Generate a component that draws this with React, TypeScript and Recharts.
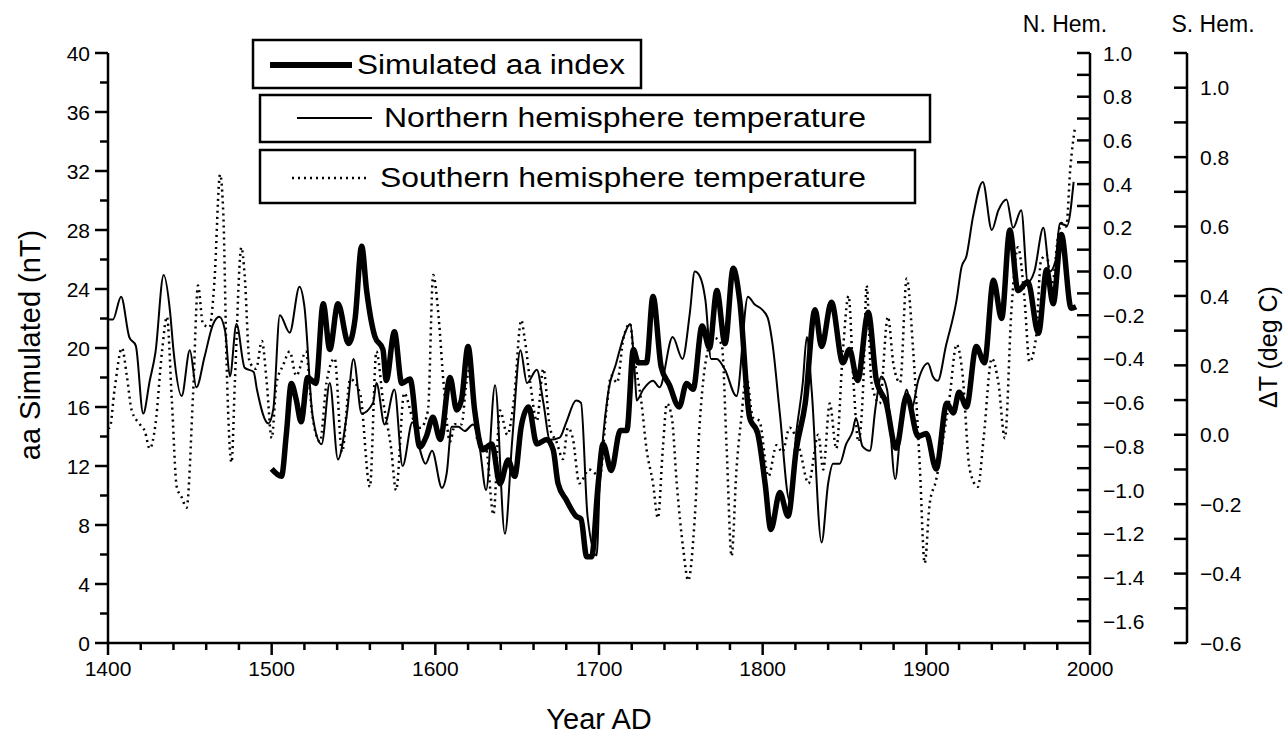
import React from 'react';
import { LineChart, Line, XAxis, YAxis } from 'recharts';

// Simulated aa index (nT), left axis
const AA_YEARS = [1500, 1506, 1509, 1512, 1515, 1518, 1522, 1527, 1531.5, 1535.5, 1540.5, 1547, 1551, 1555, 1558, 1563, 1568, 1570, 1575, 1579.5, 1584.5, 1590.5, 1594.5, 1598.5, 1603, 1609, 1613, 1616, 1620, 1624, 1629, 1634.5, 1639.5, 1644.5, 1648.5, 1652.5, 1657, 1662, 1668, 1672, 1675, 1680, 1686, 1689, 1692.5, 1695.5, 1699.5, 1702.5, 1707.5, 1713, 1717, 1721, 1724, 1729, 1733, 1738, 1743, 1749, 1753.5, 1757.5, 1763, 1767.5, 1772, 1777, 1782, 1786, 1792, 1797, 1801.5, 1805, 1810.5, 1815.5, 1820.5, 1826, 1832, 1836, 1842, 1849, 1853, 1858, 1864.5, 1869.5, 1875.5, 1881.5, 1888, 1895, 1900, 1906, 1912.5, 1916.5, 1920, 1924.5, 1930.5, 1935.5, 1941, 1946, 1951, 1956, 1962, 1968.5, 1973.5, 1977.5, 1982.5, 1988.5, 1991.5];
const AA_VALUES = [11.8, 11.3, 14.2, 17.6, 16.5, 15.0, 18.0, 17.6, 23.0, 19.9, 23.0, 20.3, 22.0, 26.9, 23.9, 20.8, 19.9, 17.8, 21.1, 17.6, 17.9, 13.3, 14.0, 15.3, 13.8, 18.0, 15.8, 16.5, 20.1, 15.8, 13.1, 13.5, 10.8, 12.4, 11.3, 14.7, 16.0, 13.5, 13.8, 13.1, 10.8, 9.7, 8.6, 8.4, 5.85, 5.85, 10.8, 13.5, 11.7, 14.4, 14.4, 19.9, 19.0, 19.0, 23.5, 18.7, 17.5, 16.0, 17.6, 17.2, 21.5, 20.0, 23.9, 20.3, 25.4, 23.2, 15.3, 14.2, 10.8, 7.7, 10.2, 8.6, 13.1, 16.25, 22.6, 20.1, 23.1, 19.0, 19.9, 17.8, 22.4, 17.8, 16.25, 13.2, 16.8, 14.0, 14.2, 11.8, 16.25, 15.6, 17.0, 16.0, 20.1, 19.0, 24.6, 22.0, 28.0, 23.9, 24.5, 21.0, 25.3, 23.0, 27.7, 22.7, 22.8];

// Northern hemisphere temperature (deg C), N. Hem. axis
const NH_YEARS = [1400, 1403, 1408, 1413, 1417, 1421.5, 1425.5, 1429, 1434, 1438, 1440, 1445, 1450, 1454, 1459, 1464, 1468, 1471.5, 1474.5, 1478.5, 1483.5, 1489, 1491, 1498, 1501, 1505, 1511, 1517, 1520, 1525, 1530.5, 1535.5, 1540.5, 1546, 1550, 1555, 1562, 1564, 1569, 1575, 1580, 1586, 1590, 1594, 1598, 1604, 1607, 1610, 1614, 1618, 1623, 1627, 1631, 1636.5, 1642.5, 1647, 1652, 1656, 1662, 1666, 1670, 1676, 1680, 1686, 1689, 1693, 1698.5, 1700.5, 1705.5, 1710.5, 1715, 1719, 1722, 1723, 1727, 1733, 1737, 1745, 1751, 1755.5, 1758.5, 1761.5, 1765, 1768.5, 1772, 1777, 1784, 1791, 1795, 1799, 1803, 1806, 1810.5, 1816.5, 1820.5, 1824.5, 1827, 1830, 1836, 1840, 1843, 1847, 1851, 1855, 1857, 1861, 1865.5, 1869, 1872.5, 1876, 1881, 1884, 1888, 1891, 1895, 1901, 1904, 1907, 1912, 1918.5, 1921.5, 1924.5, 1928.5, 1934.5, 1940, 1944, 1949, 1953, 1958, 1962, 1966, 1971.5, 1975.5, 1979, 1981.5, 1986, 1990];
const NH_VALUES = [-0.22, -0.22, -0.115, -0.30, -0.34, -0.65, -0.50, -0.37, -0.016, -0.19, -0.36, -0.57, -0.36, -0.53, -0.39, -0.245, -0.207, -0.27, -0.48, -0.24, -0.44, -0.46, -0.54, -0.695, -0.63, -0.20, -0.28, -0.07, -0.16, -0.66, -0.79, -0.51, -0.86, -0.65, -0.40, -0.65, -0.60, -0.51, -0.70, -0.54, -0.89, -0.69, -0.80, -0.88, -0.82, -0.99, -0.92, -0.71, -0.71, -0.73, -0.70, -0.80, -1.00, -0.52, -1.20, -0.77, -0.36, -0.51, -0.45, -0.60, -0.77, -0.76, -0.69, -0.59, -0.60, -1.12, -1.30, -0.97, -0.56, -0.42, -0.30, -0.24, -0.48, -0.59, -0.54, -0.50, -0.53, -0.30, -0.40, -0.19, 0.0, -0.02, -0.13, -0.40, -0.40, -0.45, -0.57, -0.115, -0.15, -0.17, -0.21, -0.33, -0.65, -1.05, -0.74, -0.51, -0.30, -0.55, -1.24, -0.97, -0.88, -0.88, -0.79, -0.73, -0.67, -0.80, -0.82, -0.62, -0.48, -0.54, -0.95, -0.75, -0.54, -0.63, -0.50, -0.42, -0.48, -0.50, -0.34, -0.13, 0.02, 0.07, 0.25, 0.41, 0.19, 0.28, 0.33, 0.20, 0.28, -0.05, 0.00, 0.20, 0.00, 0.05, 0.22, 0.21, 0.41];

// Southern hemisphere temperature (deg C), S. Hem. axis
const SH_YEARS = [1400, 1401, 1404, 1408.5, 1411.5, 1414.5, 1419.5, 1422.5, 1425.5, 1429, 1433, 1436, 1439, 1442, 1445, 1448, 1452, 1455, 1458, 1462, 1465, 1468.5, 1470.5, 1472.5, 1475.5, 1477.5, 1481.5, 1483.5, 1486.5, 1490.5, 1494, 1497, 1500, 1503, 1507, 1511, 1515, 1521, 1524.5, 1529.5, 1533.5, 1538.5, 1543, 1548, 1554, 1560, 1564, 1568, 1573, 1576, 1581, 1586, 1591, 1595.5, 1598.7, 1602, 1605, 1609, 1612, 1616, 1619, 1621, 1626, 1631, 1635.5, 1639.5, 1644, 1648, 1652.5, 1654.5, 1658, 1662, 1666, 1670, 1674, 1678, 1681, 1684, 1688, 1694, 1700.5, 1704.5, 1707.5, 1711, 1715, 1719, 1721, 1726, 1729, 1733, 1736, 1739, 1741.5, 1744.5, 1747.5, 1751.5, 1754.5, 1758.5, 1761.5, 1765.5, 1770, 1775, 1778, 1781, 1784, 1787, 1790, 1794, 1798, 1803.5, 1808.5, 1812, 1816.5, 1822.5, 1828, 1834, 1837, 1841, 1845, 1849, 1852.5, 1855.5, 1858.5, 1861.5, 1863.5, 1866.5, 1871.5, 1876.5, 1880, 1884, 1888, 1892, 1896, 1899, 1902, 1906, 1910, 1914, 1918.5, 1922, 1926.5, 1931.5, 1935, 1940, 1944, 1948, 1952, 1956, 1960, 1963, 1967, 1970, 1973.5, 1976.5, 1980.5, 1982.5, 1985.5, 1988, 1991];
const SH_VALUES = [0.02, 0.02, 0.13, 0.25, 0.17, 0.07, 0.03, 0.01, -0.04, 0.03, 0.24, 0.34, 0.10, -0.15, -0.18, -0.21, 0.12, 0.43, 0.32, 0.31, 0.44, 0.75, 0.63, 0.20, -0.08, 0.15, 0.54, 0.46, 0.21, 0.19, 0.27, 0.15, -0.01, 0.15, 0.20, 0.24, 0.17, 0.24, 0.07, -0.02, 0.15, 0.22, -0.05, 0.16, 0.12, -0.15, 0.24, 0.10, -0.04, -0.16, 0.12, 0.05, 0.02, 0.07, 0.46, 0.34, 0.15, -0.02, 0.03, 0.03, 0.15, 0.19, -0.02, -0.04, -0.23, 0.07, 0.00, 0.10, 0.33, 0.28, 0.15, 0.04, 0.19, 0.02, -0.02, -0.07, 0.02, -0.01, -0.14, -0.10, -0.12, 0.07, 0.17, 0.15, 0.28, 0.32, 0.24, 0.09, -0.04, -0.14, -0.24, -0.04, 0.09, 0.05, -0.14, -0.33, -0.42, -0.24, 0.03, 0.22, 0.28, 0.26, -0.04, -0.35, -0.10, 0.05, 0.17, 0.05, 0.04, -0.12, -0.03, -0.05, 0.02, -0.04, -0.14, 0.00, -0.10, 0.09, -0.04, 0.24, 0.40, 0.15, -0.02, 0.15, 0.43, 0.15, 0.09, 0.34, 0.20, 0.15, 0.45, 0.24, -0.09, -0.37, -0.20, -0.13, -0.02, 0.10, 0.26, 0.18, -0.10, -0.15, -0.01, 0.22, 0.15, -0.01, 0.36, 0.54, 0.39, 0.21, 0.28, 0.50, 0.52, 0.42, 0.57, 0.61, 0.60, 0.77, 0.89];

const X_TICKS = [1400, 1420, 1440, 1460, 1480, 1500, 1520, 1540, 1560, 1580, 1600, 1620, 1640, 1660, 1680, 1700, 1720, 1740, 1760, 1780, 1800, 1820, 1840, 1860, 1880, 1900, 1920, 1940, 1960, 1980, 2000];
const AA_TICKS = [0, 2, 4, 6, 8, 10, 12, 14, 16, 18, 20, 22, 24, 26, 28, 30, 32, 34, 36, 38, 40];
const NH_TICKS = [-1.6, -1.5, -1.4, -1.3, -1.2, -1.1, -1.0, -0.9, -0.8, -0.7, -0.6, -0.5, -0.4, -0.3, -0.2, -0.1, 0.0, 0.1, 0.2, 0.3, 0.4, 0.5, 0.6, 0.7, 0.8, 0.9, 1.0];
const SH_TICKS = [-0.6, -0.5, -0.4, -0.3, -0.2, -0.1, 0.0, 0.1, 0.2, 0.3, 0.4, 0.5, 0.6, 0.7, 0.8, 0.9, 1.0, 1.1];

const FONT = '"Liberation Sans", Arial, Helvetica, sans-serif';

const zip = (xs: number[], ys: number[]) => xs.map((year, i) => ({ year, value: ys[i] }));
const aaData = zip(AA_YEARS, AA_VALUES);
const nhData = zip(NH_YEARS, NH_VALUES);
const shData = zip(SH_YEARS, SH_VALUES);

const fmt = (v: number) => (v < 0 ? '\u2212' : '') + Math.abs(v).toFixed(1);

function BottomTick({ x, y, payload }: any) {
  const v = payload.value;
  const major = v % 100 === 0;
  return (
    <g>
      <line x1={x} x2={x} y1={y} y2={y + (major ? 12 : 7)} stroke="#000" strokeWidth={2.5} />
      {major && (
        <text x={x} y={y + 33} textAnchor="middle" fontSize={21} fontFamily={FONT} fill="#000">{v}</text>
      )}
    </g>
  );
}

function LeftTick({ x, y, payload }: any) {
  const v = payload.value;
  const major = v % 4 === 0;
  return (
    <g>
      <line x1={x} x2={x - (major ? 13 : 8)} y1={y} y2={y} stroke="#000" strokeWidth={2.5} />
      {major && (
        <text x={x - 18} y={y} dy="0.36em" textAnchor="end" fontSize={21} fontFamily={FONT} fill="#000">{v}</text>
      )}
    </g>
  );
}

function RightTick({ x, y, payload }: any) {
  const v = payload.value;
  const label = Math.round(v * 10) % 2 === 0;
  return (
    <g>
      <line x1={x} x2={x - 13} y1={y} y2={y} stroke="#000" strokeWidth={2.5} />
      {label && (
        <text x={x + 13} y={y} dy="0.36em" textAnchor="start" fontSize={21} fontFamily={FONT} fill="#000">{fmt(v)}</text>
      )}
    </g>
  );
}

export default function App() {
  return (
    <div style={{ position: 'absolute', left: 0, top: 0, width: 1287, height: 738, background: '#fff' }}>
      <LineChart width={1287} height={738} margin={{ top: 53, right: 0, bottom: 0, left: 0 }}>
        <XAxis
          dataKey="year" type="number" domain={[1400, 2000]} ticks={X_TICKS} interval={0}
          height={95} tickSize={0} tickMargin={0} tickLine={false}
          axisLine={{ stroke: '#000', strokeWidth: 2.5 }} tick={<BottomTick />} allowDuplicatedCategory={false}
        />
        <YAxis
          yAxisId="aa" orientation="left" type="number" domain={[0, 40]} ticks={AA_TICKS} interval={0}
          width={108} tickSize={0} tickMargin={0} tickLine={false}
          axisLine={{ stroke: '#000', strokeWidth: 2.5 }} tick={<LeftTick />}
        />
        <YAxis
          yAxisId="nh" orientation="right" type="number" domain={[-1.7, 1.0]} ticks={NH_TICKS} interval={0}
          width={97} tickSize={0} tickMargin={0} tickLine={false} allowDataOverflow
          axisLine={{ stroke: '#000', strokeWidth: 2.5 }} tick={<RightTick />}
        />
        <YAxis
          yAxisId="sh" orientation="right" type="number" domain={[-0.6, 1.1]} ticks={SH_TICKS} interval={0}
          width={100} tickSize={0} tickMargin={0} tickLine={false} allowDataOverflow
          axisLine={{ stroke: '#000', strokeWidth: 2.5 }} tick={<RightTick />}
        />
        <Line
          yAxisId="sh" data={shData} dataKey="value" type="monotone" stroke="#000" strokeWidth={2.5}
          strokeDasharray="2 4" dot={false} isAnimationActive={false}
        />
        <Line
          yAxisId="nh" data={nhData} dataKey="value" type="monotone" stroke="#000" strokeWidth={2}
          dot={false} isAnimationActive={false}
        />
        <Line
          yAxisId="aa" data={aaData} dataKey="value" type="monotone" stroke="#000" strokeWidth={5.5}
          dot={false} isAnimationActive={false}
        />
      </LineChart>
      <svg width={1287} height={738} style={{ position: 'absolute', left: 0, top: 0, pointerEvents: 'none' }}>
        <g fontFamily={FONT} fill="#000">
          <text x={30} y={345} transform="rotate(-90 30 345)" textAnchor="middle" dy="0.35em" fontSize={29}>aa Simulated (nT)</text>
          <text x={599} y={719} textAnchor="middle" dy="0.35em" fontSize={29}>Year AD</text>
          <text x={1268} y={347} transform="rotate(-90 1268 347)" textAnchor="middle" dy="0.35em" fontSize={25}>ΔT (deg C)</text>
          <text x={1065} y={24} textAnchor="middle" dy="0.35em" fontSize={23}>N. Hem.</text>
          <text x={1213} y={24} textAnchor="middle" dy="0.35em" fontSize={23}>S. Hem.</text>

          <rect x={253} y={40} width={388} height={48} fill="#fff" stroke="#000" strokeWidth={2.5} />
          <line x1={270} x2={352} y1={65} y2={65} stroke="#000" strokeWidth={6} />
          <text x={357} y={65} dy="0.35em" fontSize={27} textLength={268} lengthAdjust="spacingAndGlyphs">Simulated aa index</text>

          <rect x={260} y={95} width={670} height={47} fill="#fff" stroke="#000" strokeWidth={2.5} />
          <line x1={297} x2={372} y1={118} y2={118} stroke="#000" strokeWidth={2} />
          <text x={384} y={118} dy="0.35em" fontSize={27} textLength={482} lengthAdjust="spacingAndGlyphs">Northern hemisphere temperature</text>

          <rect x={260} y={150} width={655} height={53} fill="#fff" stroke="#000" strokeWidth={2.5} />
          <line x1={292} x2={368} y1={178} y2={178} stroke="#000" strokeWidth={2.5} strokeDasharray="2 4" />
          <text x={380} y={178} dy="0.35em" fontSize={27} textLength={486} lengthAdjust="spacingAndGlyphs">Southern hemisphere temperature</text>
        </g>
      </svg>
    </div>
  );
}
